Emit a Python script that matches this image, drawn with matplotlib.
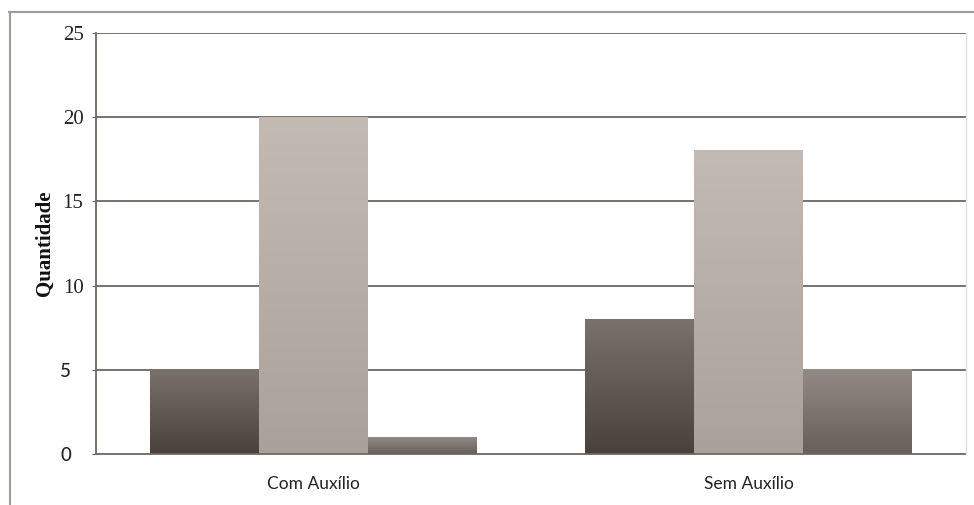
import numpy as np
import matplotlib
matplotlib.use("Agg")
import matplotlib.pyplot as plt
from matplotlib.colors import LinearSegmentedColormap
from matplotlib.lines import Line2D

categories = ["Com Auxílio", "Sem Auxílio"]
serie_escura = [5, 8]
serie_clara = [20, 18]
serie_media = [1, 5]
y_ticks = [0, 5, 10, 15, 20, 25]

# (top colour, bottom colour) for each series' vertical gradient
gradients = [
    ("#7a716c", "#4a413c"),
    ("#c3bab4", "#aaa19b"),
    ("#938a85", "#675f5a"),
]

fig = plt.figure(figsize=(9.74, 5.05), dpi=100)
ax = fig.add_axes([96 / 974, 1 - 454 / 505, 870 / 974, (454 - 33) / 505])

x = np.arange(len(categories))
width = 0.25
series = [serie_escura, serie_clara, serie_media]

ax.set_xlim(-0.5, len(categories) - 0.5)
ax.set_ylim(0, 25)

# horizontal gridlines
grid_col = "#6e6662"
for t in y_ticks[1:]:
    ax.axhline(t, color=grid_col, lw=1.3, zorder=1)

for i, vals in enumerate(series):
    bars = ax.bar(x + (i - 1) * width, vals, width, color=gradients[i][1],
                  zorder=2, linewidth=0)
    cmap = LinearSegmentedColormap.from_list(f"g{i}", [gradients[i][1], gradients[i][0]])
    for b in bars:
        x0, y0 = b.get_x(), b.get_y()
        w, h = b.get_width(), b.get_height()
        grad = np.linspace(0, 1, 256).reshape(-1, 1)
        ax.imshow(grad, cmap=cmap, aspect="auto", origin="lower",
                  extent=(x0, x0 + w, y0, y0 + h), zorder=3, interpolation="bilinear")

ax.set_xlim(-0.5, len(categories) - 0.5)
ax.set_ylim(0, 25)

for side in ["top", "right"]:
    ax.spines[side].set_visible(False)
ax.spines["left"].set_color(grid_col)
ax.spines["left"].set_linewidth(1.3)
ax.spines["bottom"].set_color(grid_col)
ax.spines["bottom"].set_linewidth(1.3)
ax.spines["bottom"].set_zorder(4)

ax.set_yticks(y_ticks)
ax.set_yticklabels([str(t) for t in y_ticks])
ax.tick_params(axis="y", length=3, color=grid_col)
for tick, t in zip(ax.yaxis.get_major_ticks(), y_ticks):
    lbl = tick.label1
    if t >= 10:
        lbl.set_fontfamily("Liberation Serif")
        lbl.set_fontsize(15)
        tick.set_pad(6)
    else:
        lbl.set_fontfamily("Lato")
        lbl.set_fontsize(13.5)
        lbl.set_fontweight("medium")
        tick.set_pad(15)
    lbl.set_color("#222222")

ax.set_xticks(x)
ax.set_xticklabels(categories, fontfamily="Lato", fontsize=12.5, color="#222222")
ax.tick_params(axis="x", length=0, pad=16)

ax.set_ylabel("Quantidade", fontfamily="Liberation Serif", fontweight="bold",
              fontsize=15, color="#111111")
ax.yaxis.set_label_coords(-41 / 870, 0.5)

# outer frame lines
frame_col = "#a39d99"
fig.add_artist(Line2D([9 / 974, 1.0], [1 - 12 / 505] * 2, color=frame_col, lw=1.5,
                      transform=fig.transFigure))
fig.add_artist(Line2D([10 / 974] * 2, [0.0, 1 - 12 / 505], color=frame_col, lw=1.5,
                      transform=fig.transFigure))
fig.add_artist(Line2D([966 / 974] * 2, [1 - 454 / 505, 1 - 33 / 505], color="#e4e0de",
                      lw=1.0, transform=fig.transFigure))

fig.savefig("out.png", dpi=100)
